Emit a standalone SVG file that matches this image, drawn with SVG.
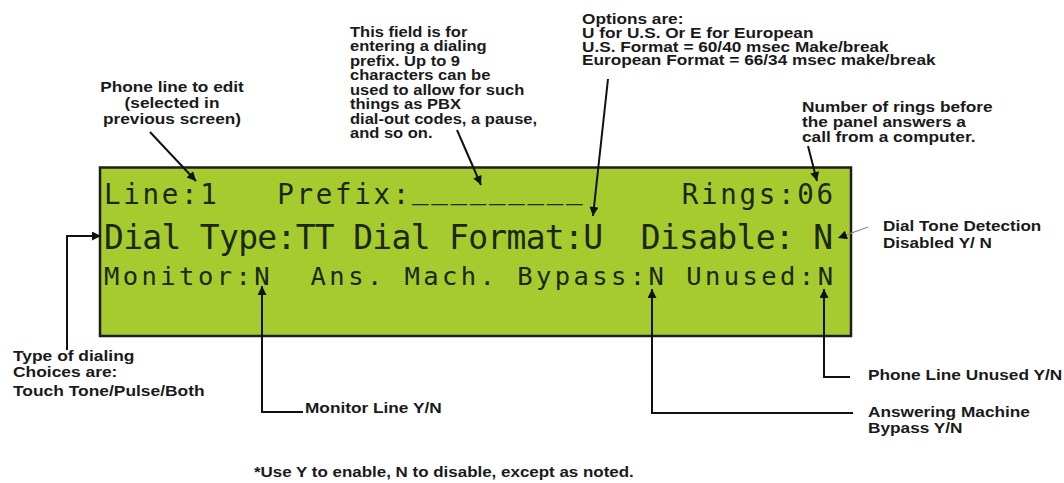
<svg xmlns="http://www.w3.org/2000/svg" width="1064" height="483" viewBox="0 0 1064 483">
<style>
.lbl{font-family:"Liberation Sans",Arial,sans-serif;font-weight:bold;font-size:15px;fill:#1a1a1a}
.opt{font-family:"Liberation Sans",Arial,sans-serif;font-weight:bold;font-size:14px;fill:#1a1a1a}
.lcd{font-family:"DejaVu Sans Mono","Liberation Mono",monospace;fill:#1c2710}
.con{fill:none;stroke:#111;stroke-width:2}
.thin{fill:none;stroke:#8a8a8a;stroke-width:1.2}
</style>
<defs>
<marker id="ah" viewBox="0 0 10 10" refX="10" refY="5" markerWidth="11" markerHeight="9" markerUnits="userSpaceOnUse" orient="auto">
<path d="M0,0 L10,5 L0,10 z" fill="#111"/>
</marker>
</defs>
<rect width="1064" height="483" fill="#fff"/>

<g id="lcd">
<rect x="100" y="167.5" width="751" height="168.5" fill="#a6cb2e" stroke="#1e1e1e" stroke-width="2.5"/>
<text class="lcd" x="104" y="204" font-size="27.5" textLength="729" lengthAdjust="spacing" xml:space="preserve">Line:1   Prefix:<tspan dy="-6">_________</tspan><tspan dy="6">     Rings:06</tspan></text>
<text class="lcd" x="104" y="249" font-size="33" textLength="729" lengthAdjust="spacing" xml:space="preserve">Dial Type:TT Dial Format:U  Disable: N</text>
<text class="lcd" x="104" y="285" font-size="25.5" textLength="729" lengthAdjust="spacing" xml:space="preserve">Monitor:N  Ans. Mach. Bypass:N Unused:N</text>
</g>

<g id="phone-line-note" transform="translate(172 0) scale(1.15 1)">
<text class="lbl" x="0" y="92" text-anchor="middle">Phone line to edit</text>
<text class="lbl" x="0" y="108" text-anchor="middle">(selected in</text>
<text class="lbl" x="0" y="124" text-anchor="middle">previous screen)</text>
</g>

<g id="prefix-note" transform="translate(350 0) scale(1.18 1)">
<text class="opt" x="0" y="37">This field is for</text>
<text class="opt" x="0" y="51.5">entering a dialing</text>
<text class="opt" x="0" y="66">prefix. Up to 9</text>
<text class="opt" x="0" y="80.5">characters can be</text>
<text class="opt" x="0" y="95">used to allow for such</text>
<text class="opt" x="0" y="109.5">things as PBX</text>
<text class="opt" x="0" y="124">dial-out codes, a pause,</text>
<text class="opt" x="0" y="138.5">and so on.</text>
</g>

<g id="options-note" transform="translate(582 0) scale(1.23 1)">
<text class="opt" x="0" y="24.5">Options are:</text>
<text class="opt" x="0" y="38.5">U for U.S. Or E for European</text>
<text class="opt" x="0" y="52">U.S. Format = 60/40 msec Make/break</text>
<text class="opt" x="0" y="65.5">European Format = 66/34 msec make/break</text>
</g>

<g id="rings-note" transform="translate(802 0) scale(1.15 1)">
<text class="lbl" x="0" y="112">Number of rings before</text>
<text class="lbl" x="0" y="127">the panel answers a</text>
<text class="lbl" x="0" y="142">call from a computer.</text>
</g>

<g id="dialtone-note" transform="translate(883 0) scale(1.14 1)">
<text class="lbl" x="0" y="231">Dial Tone Detection</text>
<text class="lbl" x="0" y="248">Disabled Y/ N</text>
</g>

<g id="dialtype-note" transform="translate(13 0) scale(1.16 1)">
<text class="lbl" x="0" y="361">Type of dialing</text>
<text class="lbl" x="0" y="377">Choices are:</text>
<text class="lbl" x="0" y="396">Touch Tone/Pulse/Both</text>
</g>

<g id="monitor-note" transform="translate(305 0) scale(1.15 1)">
<text class="lbl" x="0" y="413">Monitor Line Y/N</text>
</g>

<g id="unused-note" transform="translate(868 0) scale(1.15 1)">
<text class="lbl" x="0" y="380">Phone Line Unused Y/N</text>
</g>

<g id="bypass-note" transform="translate(868 0) scale(1.15 1)">
<text class="lbl" x="0" y="417">Answering Machine</text>
<text class="lbl" x="0" y="433">Bypass Y/N</text>
</g>

<g id="footnote" transform="translate(254 0) scale(1.13 1)">
<text class="lbl" x="0" y="477">*Use Y to enable, N to disable, except as noted.</text>
</g>

<g id="connectors">
<path class="con" d="M150,132 L196,181" marker-end="url(#ah)"/>
<path class="con" d="M457,130 L481,185" marker-end="url(#ah)"/>
<path class="con" d="M608,79 L593,216" marker-end="url(#ah)"/>
<path class="con" d="M808,146 L817,181" marker-end="url(#ah)"/>
<path class="thin" d="M868,227 L838,238" marker-end="url(#ah)"/>
<path class="con" d="M67,350 V236 H101" marker-end="url(#ah)"/>
<path class="con" d="M303,412 H262 V286" marker-end="url(#ah)"/>
<path class="con" d="M853,413 H652 V289" marker-end="url(#ah)"/>
<path class="con" d="M850,377 H824 V289" marker-end="url(#ah)"/>
</g>
</svg>
